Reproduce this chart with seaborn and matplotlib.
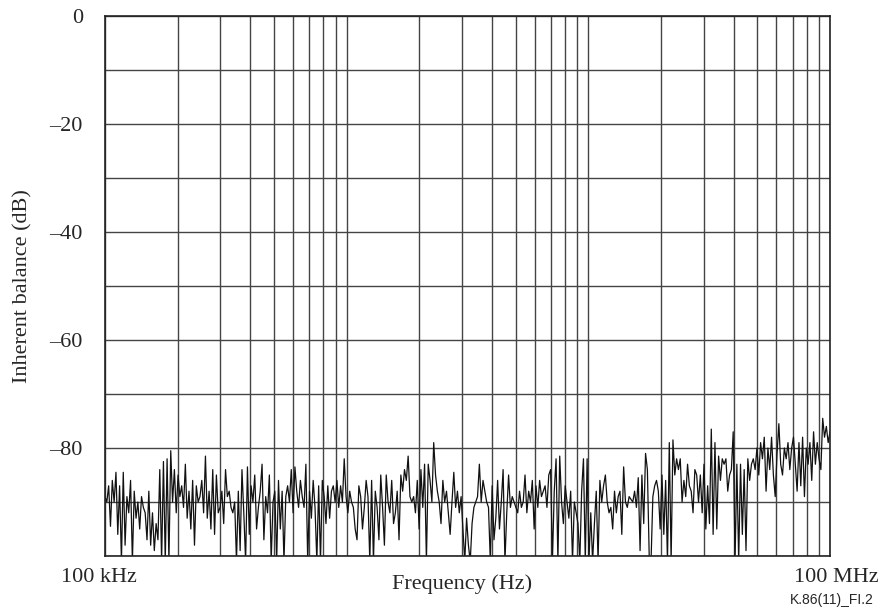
import numpy as np
import pandas as pd
import seaborn as sns
import matplotlib.pyplot as plt
from matplotlib.ticker import LogLocator, NullFormatter, FixedLocator

seg1 = [-89, -90, -87, -94.5, -86, -90, -84.5, -96, -87, -101, -84.5, -98, -89, -92, -86, -101,
        -88, -93, -90, -95, -89, -91, -92, -97, -88, -98, -92, -99, -94, -97, -84, -101,
        -82.5, -101, -82, -101, -80.5, -90, -84, -92, -85, -89, -87, -91, -83, -93, -88, -95,
        -86, -98, -87, -90]
seg2 = [-89, -86, -92, -81.5, -93, -88, -95, -84, -96, -85, -92, -91, -88, -94, -84, -89,
        -88, -91, -92, -90, -101, -88, -99, -84, -92, -101, -83.5, -96, -87, -90, -85, -95,
        -91, -88, -83, -97, -89, -92, -85, -101, -90, -88, -101, -86, -95, -88, -101, -89,
        -87, -90, -84, -92, -83.5, -88, -91, -86, -89]
seg3 = [-91, -83, -101, -88, -93, -86, -91, -101, -87, -101, -86, -89, -94, -87, -93, -88,
        -87, -90, -86, -91, -87, -90, -82, -89, -92, -88, -90, -91, -95, -97, -87, -89,
        -95, -91, -86, -89, -101, -86, -101, -88, -91, -97, -85, -91, -98, -85, -90, -92,
        -86, -94, -92, -88, -97, -85, -88, -84, -86, -81.5, -89, -90]
seg4 = [-89, -92, -86, -95, -84, -91, -83, -101, -83, -86, -90, -79, -85, -88, -90, -94,
        -86, -90, -88, -92, -96, -90, -84.5, -91, -88, -92, -89, -95, -101, -93, -98, -101,
        -94, -91, -90, -89, -83, -90, -86, -88, -90, -91, -101, -87, -97, -93, -86, -95,
        -90, -84, -101, -92, -85, -91, -89, -90, -91, -92, -88, -91]
seg5 = [-90, -85, -92, -88, -90, -86, -95, -87, -91, -86, -89, -88, -87, -91, -85, -84,
        -101, -88, -82, -101, -81.5, -90, -94, -87, -90, -93, -88, -101, -90, -92, -94, -101,
        -88, -82, -101, -82, -101, -92, -101, -94, -88, -101, -86, -90, -87, -85, -90, -92,
        -91, -95, -88, -92, -89, -88, -96, -83.5, -90, -91, -89]
seg6 = [-89.5, -90, -88, -91, -85.5, -99, -85, -94, -81, -84, -100, -101, -89, -87, -86, -88,
        -95, -85, -96, -86, -101, -79, -101, -78.5, -85, -82, -84, -82, -90, -86, -89, -83,
        -87, -88, -92, -84, -85, -90, -85, -92, -83, -95, -87, -94, -76.5, -96, -79, -95,
        -81.5, -86, -82, -83]
seg7 = [-82, -88, -85, -84, -77, -101, -83, -101, -83, -96, -84, -99, -82, -86, -83, -82,
        -84, -80, -85, -79, -82, -78, -88, -80, -84, -78, -85, -89, -81, -75.5, -83, -85,
        -80, -82, -79, -84, -80, -78, -83, -88, -79, -87, -78, -89, -80, -83, -79, -86,
        -77, -83, -79, -82, -84, -74.5, -78, -76, -79, -77]

balance = seg1 + seg2 + seg3 + seg4 + seg5 + seg6 + seg7
freq = np.geomspace(1e5, 1e8, len(balance))
df = pd.DataFrame({"freq": freq, "balance": balance})

sns.set_style("white")
plt.rcParams["font.family"] = ["Liberation Serif", "DejaVu Serif"]

fig = plt.figure(figsize=(8.79, 6.12), dpi=100)
ax = fig.add_axes([105 / 879, 56 / 612, 725 / 879, 540 / 612])

sns.lineplot(data=df, x="freq", y="balance", ax=ax, color="#111111", linewidth=0.9)

ax.set_xscale("log")
ax.set_xlim(1e5, 1e8)
ax.set_ylim(-100, 0)

ax.xaxis.set_major_locator(FixedLocator([1e5, 1e6, 1e7, 1e8]))
ax.xaxis.set_minor_locator(LogLocator(base=10, subs=np.arange(2, 10)))
ax.xaxis.set_major_formatter(NullFormatter())
ax.xaxis.set_minor_formatter(NullFormatter())
ax.yaxis.set_major_locator(FixedLocator(np.arange(-100, 1, 20)))
ax.yaxis.set_minor_locator(FixedLocator(np.arange(-90, 0, 20)))
ax.set_yticklabels(["" if v == -100 else ("0" if v == 0 else f"\u2013{abs(v)}")
                    for v in np.arange(-100, 1, 20)])

ax.grid(True, which="both", axis="both", color="#444444", linewidth=1.0)
ax.tick_params(which="both", length=0)
ax.tick_params(axis="y", labelsize=16, pad=16)
for s in ax.spines.values():
    s.set_color("#222222")
    s.set_linewidth(1.2)

ax.set_xlabel("")
ax.set_ylabel("Inherent balance (dB)", fontsize=16, labelpad=12)

fig.text(99 / 879, 1 - 578 / 612, "100 kHz", ha="center", va="center", fontsize=16)
fig.text(836 / 879, 1 - 578 / 612, "100 MHz", ha="center", va="center", fontsize=16)
fig.text(462 / 879, 1 - 584 / 612, "Frequency (Hz)", ha="center", va="center", fontsize=16)
fig.text(832 / 879, 1 - 600 / 612, "K.86(11)_FI.2", ha="center", va="center",
         fontsize=10, family=["Liberation Sans", "DejaVu Sans"])

fig.savefig("out.png", dpi=100)
